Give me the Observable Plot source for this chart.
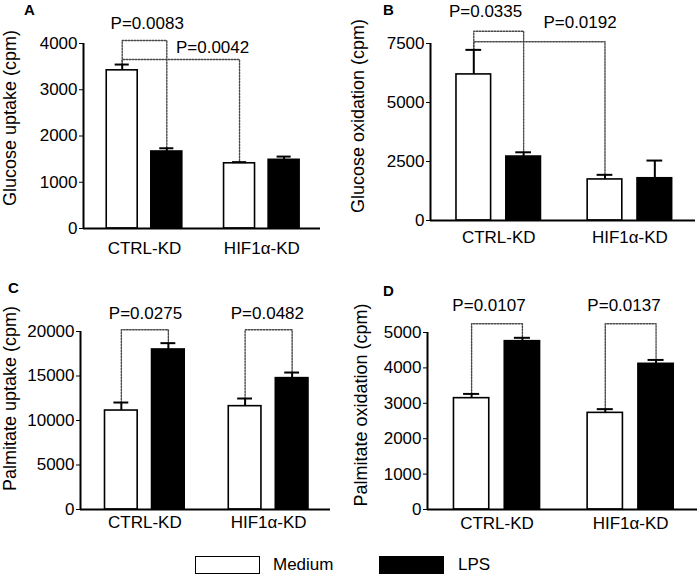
<!DOCTYPE html>
<html><head><meta charset="utf-8">
<script src="https://cdn.jsdelivr.net/npm/d3@7"></script>
<script src="https://cdn.jsdelivr.net/npm/@observablehq/plot@0.6"></script>
<style>
body{margin:0;background:#fff;font-family:"Liberation Sans",Arial,sans-serif;color:#000;}
#wrap{position:relative;width:700px;height:575px;overflow:hidden;background:#fff;}
.panel{position:absolute;}
.letter{position:absolute;font-weight:bold;font-size:15px;line-height:15px;}
.lgbox{position:absolute;box-sizing:border-box;border:1.5px solid #000;}
.lgtext{position:absolute;font-size:17px;line-height:17px;}
</style></head>
<body><div id="wrap"></div>
<script>
// ---- data ----
const groups = ["CTRL-KD", "HIF1α-KD"];
const conditions = ["Medium", "LPS"];

// order: CTRL-KD Medium, CTRL-KD LPS, HIF1α-KD Medium, HIF1α-KD LPS
const glucoseUptakeMean = [3420, 1665, 1410, 1485];
const glucoseUptakeSem = [125, 70, 25, 70];
const glucoseUptakeTicks = [0, 1000, 2000, 3000, 4000];

const glucoseOxidationMean = [6190, 2710, 1740, 1790];
const glucoseOxidationSem = [1040, 180, 195, 750];
const glucoseOxidationTicks = [0, 2500, 5000, 7500];

const palmitateUptakeMean = [11120, 17980, 11610, 14760];
const palmitateUptakeSem = [900, 710, 860, 630];
const palmitateUptakeTicks = [0, 5000, 10000, 15000, 20000];

const palmitateOxidationMean = [3145, 4755, 2730, 4115];
const palmitateOxidationSem = [120, 95, 105, 110];
const palmitateOxidationTicks = [0, 1000, 2000, 3000, 4000, 5000];

// significance comparisons: [from bar, to bar, label]
const glucoseUptakeP = [[0, 1, "P=0.0083"], [0, 2, "P=0.0042"]];
const glucoseOxidationP = [[0, 1, "P=0.0335"], [0, 2, "P=0.0192"]];
const palmitateUptakeP = [[0, 1, "P=0.0275"], [2, 3, "P=0.0482"]];
const palmitateOxidationP = [[0, 1, "P=0.0107"], [2, 3, "P=0.0137"]];

// ---- layout ----
const XDOM = [-0.52, 1.5];
const OFF = 0.19, HW = 0.132, CAP = 0.06;

const panels = [
  {letter: "A", left: 0, top: 0, title: "Glucose uptake (cpm)", mean: glucoseUptakeMean, sem: glucoseUptakeSem,
   ticks: glucoseUptakeTicks, comps: glucoseUptakeP,
   levels: [4065, 3654], labelX: [0.023, 0.58], labelY: [4422, 3920],
   mL: 83, mR: 30, mT: 43, mB: 42, xPad: 13, tdx: -73, tdy: -18, lx: 24, ly: 2},
  {letter: "B", left: 350, top: 0, title: "Glucose oxidation (cpm)", mean: glucoseOxidationMean, sem: glucoseOxidationSem,
   ticks: glucoseOxidationTicks, comps: glucoseOxidationP,
   levels: [8021, 7572], labelX: [-0.10, 0.62], labelY: [8856, 8403],
   mL: 80, mR: 5, mT: 43, mB: 50, xPad: 10, tdx: -72, tdy: -16, lx: 33, ly: 2},
  {letter: "C", left: 0, top: 270, title: "Palmitate uptake (cpm)", mean: palmitateUptakeMean, sem: palmitateUptakeSem,
   ticks: palmitateUptakeTicks, comps: palmitateUptakeP,
   levels: [20190, 20190], labelX: [0.005, 0.99], labelY: [21990, 21990],
   mL: 80, mR: 20, mT: 61, mB: 31, xPad: 6, tdx: -70, tdy: -22, lx: 8, ly: 10},
  {letter: "D", left: 350, top: 270, title: "Palmitate oxidation (cpm)", mean: palmitateOxidationMean, sem: palmitateOxidationSem,
   ticks: palmitateOxidationTicks, comps: palmitateOxidationP,
   levels: [5246, 5246], labelX: [-0.06, 0.95], labelY: [5763, 5763],
   mL: 77, mR: 3, mT: 62, mB: 31, xPad: 7, tdx: -66, tdy: -16, lx: 33, ly: 13}
];

const wrap = document.getElementById("wrap");

for (const p of panels) {
  const rows = groups.flatMap((g, gi) => conditions.map((c, ci) => {
    const i = gi * 2 + ci;
    return {group: g, cond: c, i, x: gi + (ci === 0 ? -OFF : OFF), mean: p.mean[i], sem: p.sem[i]};
  }));
  const brackets = p.comps.map(([a, b, label], k) => ({
    id: k, label, from: rows[a], to: rows[b], level: p.levels[k], lx: p.labelX[k], ly: p.labelY[k]
  }));
  const bracketPts = brackets.flatMap(b => [
    {id: b.id, x: b.from.x, y: b.from.mean + b.from.sem},
    {id: b.id, x: b.from.x, y: b.level},
    {id: b.id, x: b.to.x, y: b.level},
    {id: b.id, x: b.to.x, y: b.to.mean + b.to.sem}
  ]);
  const top = p.ticks[p.ticks.length - 1];

  const chart = Plot.plot({
    width: 350, height: 270,
    marginLeft: p.mL, marginRight: p.mR, marginTop: p.mT, marginBottom: p.mB,
    style: {fontFamily: "'Liberation Sans', Arial, sans-serif", fontSize: "16px", color: "#000", background: "transparent", overflow: "visible"},
    x: {type: "linear", domain: XDOM},
    y: {domain: [0, top]},
    marks: [
      Plot.line(bracketPts, {x: "x", y: "y", z: "id", stroke: "#4a4a4a", strokeWidth: 1.4, strokeDasharray: "1.6,1.4"}),
      Plot.rectY(rows, {x1: d => d.x - HW, x2: d => d.x + HW, y: "mean",
        fill: d => d.cond === "Medium" ? "#fff" : "#000", stroke: "#000", strokeWidth: 1.6}),
      Plot.ruleX(rows, {x: "x", y1: "mean", y2: d => d.mean + d.sem, stroke: "#000", strokeWidth: 2}),
      Plot.ruleY(rows, {y: d => d.mean + d.sem, x1: d => d.x - CAP, x2: d => d.x + CAP, stroke: "#000", strokeWidth: 2}),
      Plot.text(brackets, {x: "lx", y: "ly", text: "label", fontSize: 17, fill: "#000"}),
      Plot.ruleY([0], {stroke: "#000", strokeWidth: 2}),
      Plot.ruleX([XDOM[0]], {y1: 0, y2: top, stroke: "#000", strokeWidth: 2}),
      Plot.axisY({ticks: p.ticks, tickSize: 4, tickPadding: 2, label: null, fontSize: 17, tickFormat: d => String(d)}),
      Plot.axisX({ticks: [0, 1], tickFormat: i => groups[i], tickSize: 0, tickPadding: p.xPad, label: null, fontSize: 17}),
      Plot.text([p.title], {frameAnchor: "left", textAnchor: "middle", rotate: -90, dx: p.tdx, dy: p.tdy, fontSize: 18, fill: "#000"})
    ]
  });
  chart.classList.add("panel");
  chart.style.left = p.left + "px";
  chart.style.top = p.top + "px";
  wrap.appendChild(chart);

  const L = document.createElement("div");
  L.className = "letter";
  L.textContent = p.letter;
  L.style.left = (p.left + p.lx) + "px";
  L.style.top = (p.top + p.ly) + "px";
  wrap.appendChild(L);
}

// legend
const legendItems = [
  {label: conditions[0], fill: "#fff", box: 195, text: 273},
  {label: conditions[1], fill: "#000", box: 379, text: 458}
];
for (const it of legendItems) {
  const b = document.createElement("div");
  b.className = "lgbox";
  b.style.left = it.box + "px"; b.style.top = "556px";
  b.style.width = "65px"; b.style.height = "18px";
  b.style.background = it.fill;
  wrap.appendChild(b);
  const t = document.createElement("div");
  t.className = "lgtext";
  t.textContent = it.label;
  t.style.left = it.text + "px"; t.style.top = "556px";
  wrap.appendChild(t);
}
</script>
</body></html>
